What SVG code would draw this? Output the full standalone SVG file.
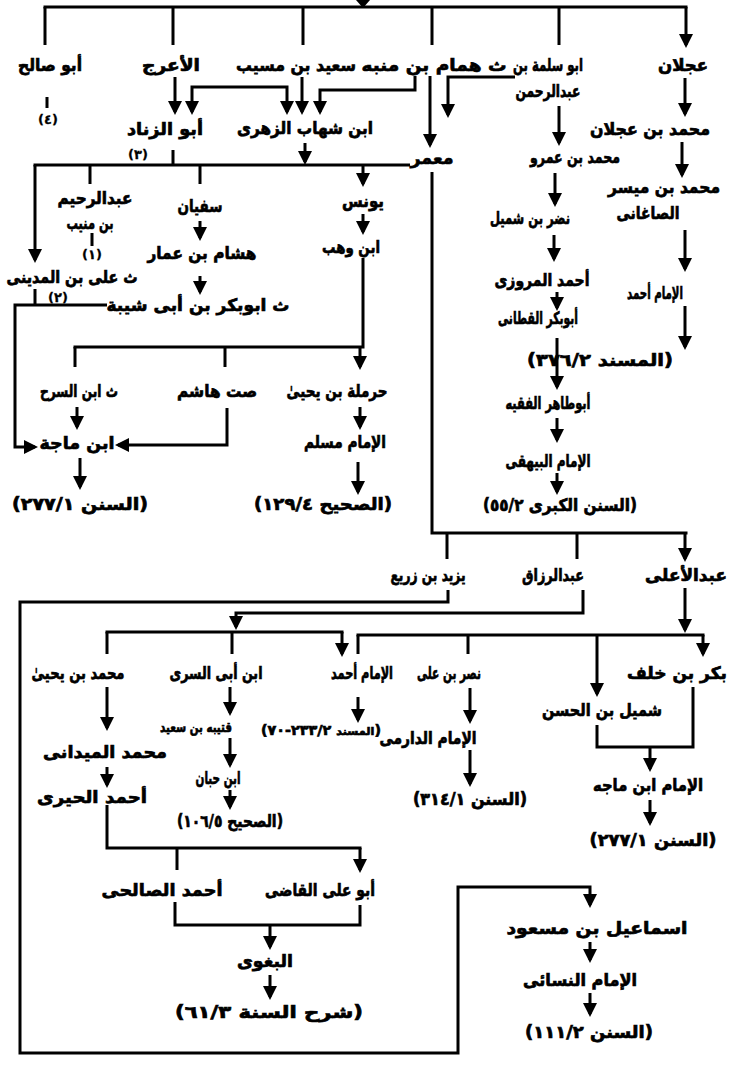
<svg xmlns="http://www.w3.org/2000/svg" width="737" height="1069" viewBox="0 0 737 1069">
<style>
.l{fill:none;stroke:#000;stroke-width:3}
.a{fill:none;stroke:#000;stroke-width:3;marker-end:url(#ah)}
.t{font-family:"DejaVu Sans",sans-serif;font-weight:bold;font-size:17px;text-anchor:middle;direction:rtl;fill:#000;stroke:#000;stroke-width:0.7px}
.f{font-size:13px;stroke-width:0.3px}
</style>
<defs>
<marker id="ah" viewBox="0 0 14 14" refX="11" refY="7" markerWidth="14" markerHeight="14" markerUnits="userSpaceOnUse" orient="auto-start-reverse"><path d="M0,0L14,7L0,14z" fill="#000"/></marker>
</defs>
<rect width="737" height="1069" fill="#fff"/>
<g id="connectors">
<polygon points="356,0 370,0 363,8" fill="#000"/>
<path class="l" d="M43.5,7H687.5"/>
<path class="a" d="M45,7V45M173,7V45M303,7V45M432,7V45M559,7V45M686,7V45"/>
<path class="l" d="M192,112V87H287V112" style="marker-start:url(#ah);marker-end:url(#ah)"/>
<path class="l" d="M47,97V108M173,150V164M92,233V246M35,289V305"/>
<path class="l" d="M33.5,165H410"/>
<path class="l" d="M432,172V533H687.5"/>
<path class="l" d="M363,258V347H73.5"/>
<path class="a" d="M175,77V112"/>
<path class="a" d="M302,77V112"/>
<path class="a" d="M415,76V90H320V112"/>
<path class="a" d="M430,76V145"/>
<path class="a" d="M515,77H448V115"/>
<path class="a" d="M685,78V114"/>
<path class="a" d="M559,106V143"/>
<path class="a" d="M682,142V175"/>
<path class="a" d="M305,143V162"/>
<path class="a" d="M35,165V260"/>
<path class="a" d="M90,165V184M200,165V184M363,165V184"/>
<path class="a" d="M555,173V204"/>
<path class="a" d="M685,230V269"/>
<path class="a" d="M554,235V259"/>
<path class="a" d="M557,292V308"/>
<path class="a" d="M685,306V347"/>
<path class="a" d="M557,338V387"/>
<path class="a" d="M557,418V440"/>
<path class="a" d="M557,473V492"/>
<path class="a" d="M200,221V238"/>
<path class="a" d="M200,276V292"/>
<path class="a" d="M363,214V232"/>
<path class="a" d="M75,347V367M225,347V367M360,347V367"/>
<path class="a" d="M107,305H15V447H35"/>
<path class="a" d="M77,407V427"/>
<path class="a" d="M227,408V445H118"/>
<path class="a" d="M360,407V427"/>
<path class="a" d="M80,458V487"/>
<path class="a" d="M358,462V492"/>
<path class="a" d="M447,533V559M577,533V559M685,533V559"/>
<path class="a" d="M448,590V602H20V1053H458V887H590V905"/>
<path class="a" d="M583,590V613H236V627"/>
<path class="l" d="M105.5,632H343.5"/>
<path class="a" d="M107,632V654M232,632V654M342,632V654"/>
<path class="a" d="M685,588V630"/>
<path class="l" d="M356.5,635H704.5"/>
<path class="a" d="M358,635V654M468,635V654M703,635V654"/>
<path class="a" d="M597,635V694"/>
<path class="l" d="M693,687V747H597V725"/>
<path class="a" d="M650,747V769"/>
<path class="a" d="M650,800V823"/>
<path class="a" d="M470,688V721"/>
<path class="a" d="M470,750V784"/>
<path class="a" d="M107,687V728"/>
<path class="a" d="M230,687V713"/>
<path class="a" d="M358,697V720"/>
<path class="a" d="M107,767V785"/>
<path class="a" d="M230,738V765"/>
<path class="a" d="M230,790V807"/>
<path class="l" d="M107,805V848H361.5"/>
<path class="a" d="M177,848V870M360,848V870"/>
<path class="l" d="M175,902V925H360V905"/>
<path class="a" d="M270,925V947"/>
<path class="a" d="M270,975V997"/>
<path class="a" d="M590,942V960"/>
<path class="a" d="M590,993V1014"/>
</g>
<g id="n-abusalih"><text class="t" x="50" y="71" textLength="64" lengthAdjust="spacingAndGlyphs">أبو صالح</text><text class="t f" x="48" y="124">(٤)</text></g>
<g id="n-aaraj"><text class="t" x="171" y="71" textLength="58" lengthAdjust="spacingAndGlyphs">الأعرج</text></g>
<g id="n-saeed"><text class="t" x="296" y="71" textLength="120" lengthAdjust="spacingAndGlyphs">سعيد بن مسيب</text></g>
<g id="n-hammam"><text class="t" x="434" y="71" textLength="145" lengthAdjust="spacingAndGlyphs">ث همام بن منبه</text></g>
<g id="n-abusalama"><text class="t" x="548" y="71" textLength="70" lengthAdjust="spacingAndGlyphs">ابو سلمة بن</text><text class="t" x="548" y="97" textLength="65" lengthAdjust="spacingAndGlyphs">عبدالرحمن</text></g>
<g id="n-ajlan"><text class="t" x="683" y="71" textLength="50" lengthAdjust="spacingAndGlyphs">عجلان</text></g>
<g id="n-abuzinad"><text class="t" x="165" y="135" textLength="76" lengthAdjust="spacingAndGlyphs">أبو الزناد</text><text class="t f" x="138" y="159">(٣)</text></g>
<g id="n-zuhri"><text class="t" x="305" y="134" textLength="136" lengthAdjust="spacingAndGlyphs">ابن شهاب الزهرى</text></g>
<g id="n-mibnajlan"><text class="t" x="650" y="135" textLength="120" lengthAdjust="spacingAndGlyphs">محمد بن عجلان</text></g>
<g id="n-mamar"><text class="t" x="432" y="164" textLength="43" lengthAdjust="spacingAndGlyphs">معمر</text></g>
<g id="n-mibnamr"><text class="t" x="575" y="163" textLength="90" lengthAdjust="spacingAndGlyphs">محمد بن عمرو</text></g>
<g id="n-maysar"><text class="t" x="664" y="193" textLength="112" lengthAdjust="spacingAndGlyphs">محمد بن ميسر</text><text class="t" x="648" y="219" textLength="63" lengthAdjust="spacingAndGlyphs">الصاغانى</text></g>
<g id="n-abdurrahim"><text class="t" x="95" y="204" textLength="75" lengthAdjust="spacingAndGlyphs">عبدالرحيم</text><text class="t" x="90" y="229" textLength="47" lengthAdjust="spacingAndGlyphs">بن منيب</text><text class="t f" x="92" y="259">(١)</text></g>
<g id="n-sufyan"><text class="t" x="200" y="212" textLength="45" lengthAdjust="spacingAndGlyphs">سفيان</text></g>
<g id="n-yunus"><text class="t" x="363" y="207" textLength="42" lengthAdjust="spacingAndGlyphs">يونس</text></g>
<g id="n-nadr"><text class="t" x="530" y="224" textLength="80" lengthAdjust="spacingAndGlyphs">نضر بن شميل</text></g>
<g id="n-hisham"><text class="t" x="202" y="259" textLength="109" lengthAdjust="spacingAndGlyphs">هشام بن عمار</text></g>
<g id="n-ibnwahb"><text class="t" x="351" y="253" textLength="58" lengthAdjust="spacingAndGlyphs">ابن وهب</text></g>
<g id="n-madini"><text class="t" x="72" y="283" textLength="131" lengthAdjust="spacingAndGlyphs">ث على بن المدينى</text><text class="t f" x="58" y="302">(٢)</text></g>
<g id="n-abubakr"><text class="t" x="198" y="311" textLength="183" lengthAdjust="spacingAndGlyphs">ث ابوبكر بن أبى شيبة</text></g>
<g id="n-marwazi"><text class="t" x="542" y="286" textLength="95" lengthAdjust="spacingAndGlyphs">أحمد المروزى</text></g>
<g id="n-ahmad1"><text class="t" x="655" y="299" textLength="56" lengthAdjust="spacingAndGlyphs">الإمام أحمد</text></g>
<g id="n-qattani"><text class="t" x="538" y="324" textLength="80" lengthAdjust="spacingAndGlyphs">أبوبكر القطانى</text></g>
<g id="n-musnad1"><text class="t" x="600" y="366" textLength="146" lengthAdjust="spacingAndGlyphs">(المسند ٣٧٦/٢)</text></g>
<g id="n-sarh"><text class="t" x="79" y="397" textLength="78" lengthAdjust="spacingAndGlyphs">ث ابن السرح</text></g>
<g id="n-hashim"><text class="t" x="217" y="397" textLength="80" lengthAdjust="spacingAndGlyphs">صت هاشم</text></g>
<g id="n-harmala"><text class="t" x="337" y="397" textLength="101" lengthAdjust="spacingAndGlyphs">حرملة بن يحيىٰ</text></g>
<g id="n-abutahir"><text class="t" x="548" y="409" textLength="85" lengthAdjust="spacingAndGlyphs">أبوطاهر الفقيه</text></g>
<g id="n-ibnmaja1"><text class="t" x="77" y="449" textLength="75" lengthAdjust="spacingAndGlyphs">ابن ماجة</text></g>
<g id="n-muslim"><text class="t" x="345" y="448" textLength="82" lengthAdjust="spacingAndGlyphs">الإمام مسلم</text></g>
<g id="n-bayhaqi"><text class="t" x="548" y="467" textLength="85" lengthAdjust="spacingAndGlyphs">الإمام البيهقى</text></g>
<g id="n-sunan1"><text class="t" x="80" y="510" textLength="136" lengthAdjust="spacingAndGlyphs">(السنن ٢٧٧/١)</text></g>
<g id="n-sahih1"><text class="t" x="323" y="510" textLength="138" lengthAdjust="spacingAndGlyphs">(الصحيح ١٢٩/٤)</text></g>
<g id="n-kubra"><text class="t" x="560" y="511" textLength="154" lengthAdjust="spacingAndGlyphs">(السنن الكبرى ٥٥/٢)</text></g>
<g id="n-yazid"><text class="t" x="428" y="581" textLength="75" lengthAdjust="spacingAndGlyphs">يزيد بن زريع</text></g>
<g id="n-abdurrazzaq"><text class="t" x="553" y="581" textLength="62" lengthAdjust="spacingAndGlyphs">عبدالرزاق</text></g>
<g id="n-abdulala"><text class="t" x="686" y="581" textLength="82" lengthAdjust="spacingAndGlyphs">عبدالأعلى</text></g>
<g id="n-mibnyahya"><text class="t" x="78" y="679" textLength="93" lengthAdjust="spacingAndGlyphs">محمد بن يحيىٰ</text></g>
<g id="n-ibnabisari"><text class="t" x="216" y="679" textLength="93" lengthAdjust="spacingAndGlyphs">ابن أبى السرى</text></g>
<g id="n-ahmad2"><text class="t" x="362" y="679" textLength="62" lengthAdjust="spacingAndGlyphs">الإمام أحمد</text></g>
<g id="n-nasr"><text class="t" x="449" y="679" textLength="64" lengthAdjust="spacingAndGlyphs">نصر بن على</text></g>
<g id="n-bakr"><text class="t" x="677" y="679" textLength="100" lengthAdjust="spacingAndGlyphs">بكر بن خلف</text></g>
<g id="n-shumayl"><text class="t" x="602" y="716" textLength="120" lengthAdjust="spacingAndGlyphs">شميل بن الحسن</text></g>
<g id="n-qutayba"><text class="t" x="196" y="732" textLength="72" lengthAdjust="spacingAndGlyphs" style="font-size:14px">قتيبه بن سعيد</text></g>
<g id="n-musnad2"><text class="t" x="321" y="735" textLength="120" lengthAdjust="spacingAndGlyphs" style="font-size:14px">(<tspan font-size="11">المسند</tspan> ٢٣٣/٢-٧٠)</text></g>
<g id="n-darimi"><text class="t" x="428" y="744" textLength="97" lengthAdjust="spacingAndGlyphs">الإمام الدارمى</text></g>
<g id="n-maydani"><text class="t" x="105" y="758" textLength="124" lengthAdjust="spacingAndGlyphs">محمد الميدانى</text></g>
<g id="n-ibnhibban"><text class="t" x="218" y="784" textLength="45" lengthAdjust="spacingAndGlyphs">ابن حبان</text></g>
<g id="n-hiri"><text class="t" x="92" y="803" textLength="110" lengthAdjust="spacingAndGlyphs">أحمد الحيرى</text></g>
<g id="n-ibnmaja2"><text class="t" x="648" y="791" textLength="110" lengthAdjust="spacingAndGlyphs">الإمام ابن ماجه</text></g>
<g id="n-sunan2"><text class="t" x="470" y="805" textLength="114" lengthAdjust="spacingAndGlyphs">(السنن ٣١٤/١)</text></g>
<g id="n-sahih2"><text class="t" x="230" y="827" textLength="106" lengthAdjust="spacingAndGlyphs">(الصحيح ١٠٦/٥)</text></g>
<g id="n-sunan3"><text class="t" x="653" y="846" textLength="127" lengthAdjust="spacingAndGlyphs">(السنن ٢٧٧/١)</text></g>
<g id="n-salihi"><text class="t" x="162" y="896" textLength="121" lengthAdjust="spacingAndGlyphs">أحمد الصالحى</text></g>
<g id="n-qadi"><text class="t" x="320" y="896" textLength="110" lengthAdjust="spacingAndGlyphs">أبو على القاضى</text></g>
<g id="n-ismail"><text class="t" x="597" y="934" textLength="181" lengthAdjust="spacingAndGlyphs">اسماعيل بن مسعود</text></g>
<g id="n-baghawi"><text class="t" x="265" y="967" textLength="56" lengthAdjust="spacingAndGlyphs">البغوى</text></g>
<g id="n-nasai"><text class="t" x="580" y="986" textLength="114" lengthAdjust="spacingAndGlyphs">الإمام النسائى</text></g>
<g id="n-sharh"><text class="t" x="269" y="1018" textLength="188" lengthAdjust="spacingAndGlyphs">(شرح السنة ٦١/٣)</text></g>
<g id="n-sunan4"><text class="t" x="589" y="1038" textLength="128" lengthAdjust="spacingAndGlyphs">(السنن ١١١/٢)</text></g>
</svg>
